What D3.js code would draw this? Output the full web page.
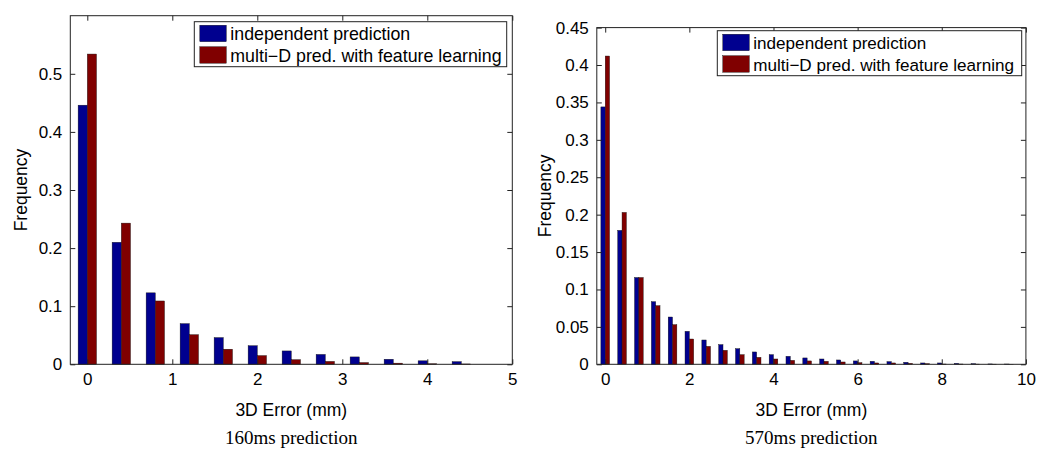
<!DOCTYPE html>
<html>
<head>
<meta charset="utf-8">
<script src="https://cdn.jsdelivr.net/npm/d3@7"></script>
<style>
  body { margin: 0; background: #fff; }
  svg { display: block; }
  .tick text { font-family: "Liberation Sans", Arial, Helvetica, sans-serif; font-size: 17px; fill: #000; }
  .lbl { font-family: "Liberation Sans", Arial, Helvetica, sans-serif; font-size: 17.5px; fill: #000; }
  .leg { font-family: "Liberation Sans", Arial, Helvetica, sans-serif; fill: #000; }
  .ttl { font-family: "Liberation Serif", "Times New Roman", serif; font-size: 19px; fill: #000; }
</style>
</head>
<body>
<div id="chart"></div>
<script>
// ---- data ----
const seriesNames = ["independent prediction", "multi\u2212D pred. with feature learning"];

// 160 ms panel
const bins160 = [0, 0.4, 0.8, 1.2, 1.6, 2.0, 2.4, 2.8, 3.2, 3.6, 4.0, 4.4];
const indep160 = [0.446, 0.210, 0.123, 0.070, 0.046, 0.032, 0.023, 0.017, 0.0127, 0.0087, 0.006, 0.0046];
const multi160 = [0.534, 0.243, 0.109, 0.051, 0.026, 0.015, 0.008, 0.005, 0.003, 0.002, 0.001, 0.0006];
const xTicks160 = [0, 1, 2, 3, 4, 5];
const yTicks160 = [0, 0.1, 0.2, 0.3, 0.4, 0.5];

// 570 ms panel
const bins570 = [0, 0.4, 0.8, 1.2, 1.6, 2.0, 2.4, 2.8, 3.2, 3.6, 4.0, 4.4, 4.8,
                 5.2, 5.6, 6.0, 6.4, 6.8, 7.2, 7.6, 8.0, 8.4, 8.8, 9.2, 9.6];
const indep570 = [0.344, 0.179, 0.116, 0.0837, 0.0632, 0.0441, 0.0325, 0.0263, 0.0209, 0.0165,
                  0.0129, 0.0107, 0.0085, 0.0071, 0.0058, 0.0045, 0.0040, 0.0036, 0.0027, 0.0018,
                  0.0018, 0.0013, 0.0009, 0.0005, 0.0004];
const multi570 = [0.412, 0.203, 0.116, 0.0784, 0.0530, 0.0338, 0.0240, 0.0187, 0.0129, 0.0093,
                  0.0071, 0.0053, 0.0045, 0.0040, 0.0031, 0.0022, 0.0018, 0.0018, 0.0013, 0.0009,
                  0.0004, 0.0004, 0.0003, 0.0002, 0.0001];
const xTicks570 = [0, 2, 4, 6, 8, 10];
const yTicks570 = [0, 0.05, 0.1, 0.15, 0.2, 0.25, 0.3, 0.35, 0.4, 0.45];

const colors = ["#00008f", "#800000"];

const W = 1050, H = 462;
const svg = d3.select("#chart").append("svg")
    .attr("width", W).attr("height", H)
    .attr("viewBox", [0, 0, W, H]);

function panel(opt) {
    const x = d3.scaleLinear().domain(opt.xDomain).range([opt.left, opt.right]);
    const y = d3.scaleLinear().domain(opt.yDomain).range([opt.bottom, opt.top]);
    const g = svg.append("g");
    const bw = opt.barWidth;

    // bars
    [opt.indep, opt.multi].forEach((vals, si) => {
        g.append("g").selectAll("rect")
            .data(vals.map((v, i) => ({ c: opt.bins[i], v })))
            .join("rect")
            .attr("x", d => si === 0 ? x(d.c - bw) : x(d.c))
            .attr("width", d => x(d.c + bw) - x(d.c))
            .attr("y", d => y(d.v))
            .attr("height", d => y(0) - y(d.v))
            .attr("fill", colors[si])
            .attr("stroke", "#111")
            .attr("stroke-width", 0.4);
    });

    const fmt = d3.format("~g");
    const tk = 5;

    const bottomAxis = d3.axisBottom(x).tickValues(opt.xTicks).tickFormat(fmt)
        .tickSizeInner(-tk).tickSizeOuter(0).tickPadding(9);
    const topAxis = d3.axisTop(x).tickValues(opt.xTicks).tickFormat("")
        .tickSizeInner(-tk).tickSizeOuter(0);
    const leftAxis = d3.axisLeft(y).tickValues(opt.yTicks).tickFormat(fmt)
        .tickSizeInner(-tk).tickSizeOuter(0).tickPadding(8);
    const rightAxis = d3.axisRight(y).tickValues(opt.yTicks).tickFormat("")
        .tickSizeInner(-tk).tickSizeOuter(0);

    const axes = [
        [bottomAxis, `translate(0,${opt.bottom})`],
        [topAxis, `translate(0,${opt.top})`],
        [leftAxis, `translate(${opt.left},0)`],
        [rightAxis, `translate(${opt.right},0)`]
    ];
    axes.forEach(([ax, tr]) => {
        const a = g.append("g").attr("transform", tr).call(ax);
        a.select(".domain").remove();
        a.selectAll(".tick line").attr("stroke", "#222");
    });

    g.append("rect")
        .attr("x", opt.left).attr("y", opt.top)
        .attr("width", opt.right - opt.left).attr("height", opt.bottom - opt.top)
        .attr("fill", "none").attr("stroke", "#222").attr("stroke-width", 1);

    // axis labels
    const cx = (opt.left + opt.right) / 2;
    g.append("text").attr("class", "lbl")
        .attr("x", cx).attr("y", 416).attr("text-anchor", "middle")
        .text("3D Error (mm)");
    g.append("text").attr("class", "lbl")
        .attr("transform", `translate(${opt.yLabelX},${(opt.top + opt.bottom) / 2}) rotate(-90)`)
        .attr("text-anchor", "middle")
        .text("Frequency");
    g.append("text").attr("class", "ttl")
        .attr("x", cx).attr("y", 444).attr("text-anchor", "middle")
        .text(opt.title);

    // legend
    const L = opt.legend;
    const lg = g.append("g").attr("transform", `translate(${L.x},${L.y})`);
    lg.append("rect").attr("width", L.w).attr("height", 45)
        .attr("fill", "#fff").attr("stroke", "#222").attr("stroke-width", 1);
    seriesNames.forEach((name, i) => {
        lg.append("rect")
            .attr("x", 5.5).attr("y", 3.5 + i * 21.5)
            .attr("width", 26.5).attr("height", 16.5)
            .attr("fill", colors[i]).attr("stroke", "#111").attr("stroke-width", 0.4);
        lg.append("text").attr("class", "leg")
            .attr("x", 36).attr("y", 18 + i * 22)
            .style("font-size", L.fs + "px")
            .text(name);
    });
}

panel({
    bins: bins160, indep: indep160, multi: multi160,
    xTicks: xTicks160, yTicks: yTicks160,
    xDomain: [-0.2, 5], yDomain: [0, 0.6],
    left: 70.3, right: 512.3, top: 15.7, bottom: 364.3,
    barWidth: 0.108, yLabelX: 27,
    title: "160ms prediction",
    legend: { x: 194.3, y: 21.7, w: 312.4, fs: 17.8 }
});

panel({
    bins: bins570, indep: indep570, multi: multi570,
    xTicks: xTicks570, yTicks: yTicks570,
    xDomain: [-0.2, 10], yDomain: [0, 0.45],
    left: 596.8, right: 1025.9, top: 27.6, bottom: 364.3,
    barWidth: 0.103, yLabelX: 551,
    title: "570ms prediction",
    legend: { x: 717.3, y: 30.7, w: 304.4, fs: 17.1 }
});
</script>
</body>
</html>
